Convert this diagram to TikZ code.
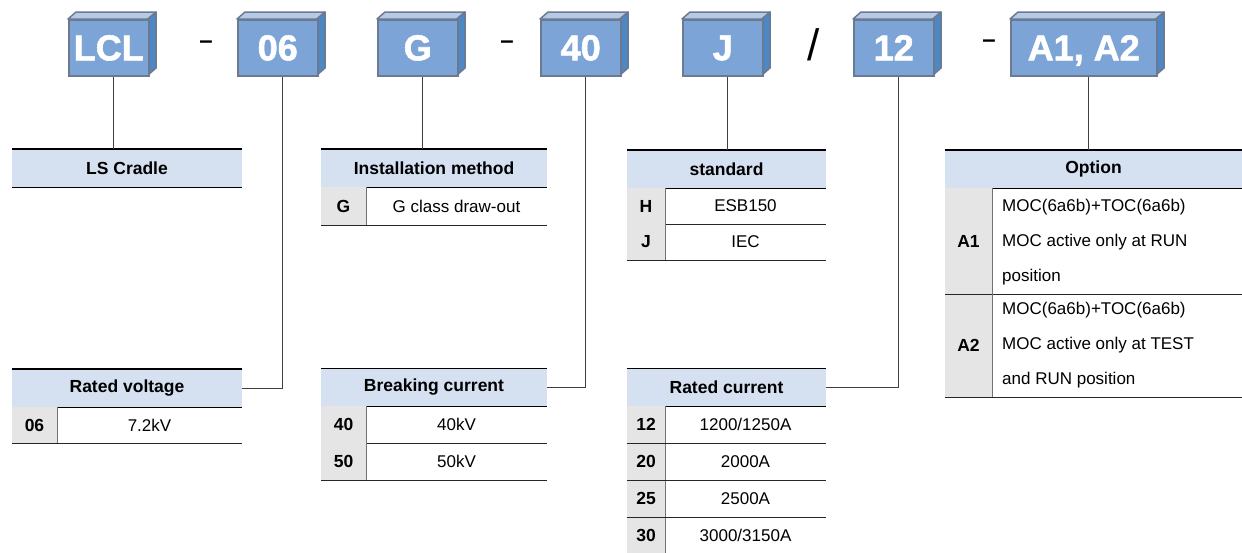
\documentclass[tikz,border=0pt]{standalone}
\usepackage{fontspec}
\setmainfont{Liberation Sans}
\newfontfamily\boxfont[BoldFeatures={FakeBold=1.6}]{Liberation Sans}
\definecolor{boxfront}{RGB}{124,164,214}
\definecolor{boxtopc}{RGB}{182,202,232}
\definecolor{boxsidec}{RGB}{78,136,196}
\definecolor{boxedge}{RGB}{108,122,143}
\definecolor{headblue}{RGB}{213,224,240}
\definecolor{keygrey}{RGB}{229,229,229}
\tikzset{
  codebox/.style={draw=boxedge, fill=boxfront, line width=1.5pt, minimum height=56pt,
    inner sep=0pt, text=white, font=\fontsize{36}{36}\boxfont\bfseries},
  boxtop/.style={draw=boxedge, fill=boxtopc, line width=1.5pt, line join=round},
  boxside/.style={draw=boxedge, fill=boxsidec, line width=1.5pt, line join=round},
  headcell/.style={fill=headblue, minimum height=38pt, inner sep=0pt,
    font=\fontsize{17.5}{20}\selectfont\bfseries},
  keycell/.style={fill=keygrey, inner sep=0pt, font=\fontsize{17.5}{20}\selectfont\bfseries},
  valcell/.style={inner sep=0pt, font=\fontsize{17}{20}\selectfont},
  rule/.style={black, line width=1.4pt},
  rowrule/.style={black!85, line width=1pt},
  keyrule/.style={black!55, line width=1pt},
  link/.style={black!75, line width=1pt},
  sepmark/.style={inner sep=0pt, font=\fontsize{24}{24}\selectfont\bfseries},
}
\begin{document}
\begin{tikzpicture}[x=1pt, y=-1pt]
  \useasboundingbox (0,0) rectangle (1242,552);
  % Code-Bloecke oben (3D)
  \foreach \nm/\x/\w/\lab in {lcl/68/80/LCL, c06/237/80/06, cg/377/80/G, c40/540/80/40,
      cj/682/80/J, c12/853/80/12, copt/1010/146/{A1, A2}}{
    \filldraw[boxtop] (\x,19) -- ++(8,-7) -- ++(\w,0) -- ++(-8,7) -- cycle;
    \filldraw[boxside] (\x+\w,19) -- ++(8,-7) -- ++(0,56) -- ++(-8,7) -- cycle;
    \node[codebox, minimum width=\w pt, anchor=north west, text depth=-3pt] (\nm) at (\x,19) {\lab};
    \coordinate (\nm foot) at ([xshift=5pt]\nm.south);
  }
  % Trennzeichen
  \node[sepmark] (dash1) at (206,45) {–};
  \node[sepmark] (dash2) at (507,45) {–};
  \node[sepmark, font=\fontsize{44}{44}\selectfont] (slash) at (814,45) {/};
  \node[sepmark] (dash3) at (989,44) {–};

  % LS Cradle
  \node[headcell, minimum width=230pt] (cradle) at (127,168) {LS Cradle};
  \draw[rule] (cradle.north west) -- (cradle.north east);
  \draw[rule] (cradle.south west) -- (cradle.south east);

  % Installation method
  \node[headcell, minimum width=226pt] (install) at (434,168) {Installation method};
  \draw[rule] (install.north west) -- (install.north east);
  \draw[rule] (install.south west) -- (install.south east);
  \node[keycell, minimum width=45pt, minimum height=38pt] (ik1) at (343.5,206) {G};
  \node[valcell] (iv1) at (456.5,206) {G class draw-out};
  \draw[keyrule] (ik1.north east) -- (ik1.south east);
  \draw[rowrule] (ik1.south west) -- (ik1.south west -| install.east);

  % standard
  \node[headcell, minimum width=199pt] (stdd) at (726.5,169) {standard};
  \draw[rule] (stdd.north west) -- (stdd.north east);
  \draw[rule] (stdd.south west) -- (stdd.south east);
  \foreach \k/\v [count=\i] in {H/ESB150, J/IEC}{
    \node[keycell, minimum width=38pt, minimum height=36pt] (sk\i) at (646,170+36*\i) {\k};
    \node[valcell] (sv\i) at (745.5,170+36*\i) {\v};
    \draw[keyrule] (sk\i.north east) -- (sk\i.south east);
    \draw[rowrule] (sk\i.south west) -- (sk\i.south west -| stdd.east);
  }

  % Option
  \node[headcell, minimum width=297pt] (option) at (1093.5,169) {Option};
  \draw[rule] (option.north west) -- (option.north east);
  \draw[rule] (option.south west) -- (option.south east);
  \node[keycell, minimum width=47pt, minimum height=106pt] (ok1) at (968.5,241) {A1};
  \node[keycell, minimum width=47pt, minimum height=103pt] (ok2) at (968.5,345.5) {A2};
  \node[valcell, anchor=west, align=left, font=\fontsize{17}{35}\selectfont] (ov1)
    at (1002,242) {MOC(6a6b)+TOC(6a6b)\\MOC active only at RUN\\position};
  \node[valcell, anchor=west, align=left, font=\fontsize{17}{35}\selectfont] (ov2)
    at (1002,345) {MOC(6a6b)+TOC(6a6b)\\MOC active only at TEST\\and RUN position};
  \foreach \i in {1,2}{
    \draw[keyrule] (ok\i.north east) -- (ok\i.south east);
    \draw[rowrule] (ok\i.south west) -- (ok\i.south west -| option.east);
  }

  % Rated voltage
  \node[headcell, minimum width=230pt] (volt) at (127,388) {Rated voltage};
  \draw[rule] (volt.north west) -- (volt.north east);
  \draw[rule] (volt.south west) -- (volt.south east);
  \node[keycell, minimum width=45pt, minimum height=36pt] (vk1) at (34.5,425) {06};
  \node[valcell] (vv1) at (149.5,425) {7.2kV};
  \draw[keyrule] (vk1.north east) -- (vk1.south east);
  \draw[rowrule] (vk1.south west) -- (vk1.south west -| volt.east);

  % Breaking current
  \node[headcell, minimum width=226pt] (brk) at (434,387.5) {Breaking current};
  \draw[rule] (brk.north west) -- (brk.north east);
  \draw[rule] (brk.south west) -- (brk.south east);
  \foreach \k/\v [count=\i] in {40/40kV, 50/50kV}{
    \node[keycell, minimum width=45pt, minimum height=37pt] (bk\i) at (343.5,387.5+37*\i) {\k};
    \node[valcell] (bv\i) at (456.5,387.5+37*\i) {\v};
    \draw[keyrule] (bk\i.north east) -- (bk\i.south east);
    \draw[rowrule] (bk\i.south west) -- (bk\i.south west -| brk.east);
  }

  % Rated current
  \node[headcell, minimum width=199pt] (rcur) at (726.5,387.5) {Rated current};
  \draw[rule] (rcur.north west) -- (rcur.north east);
  \draw[rule] (rcur.south west) -- (rcur.south east);
  \foreach \k/\v [count=\i] in {12/1200\slash 1250A, 20/2000A, 25/2500A, 30/3000\slash 3150A}{
    \node[keycell, minimum width=38pt, minimum height=37pt] (rk\i) at (646,387.5+37*\i) {\k};
    \node[valcell] (rv\i) at (745.5,387.5+37*\i) {\v};
    \draw[keyrule] (rk\i.north east) -- (rk\i.south east);
  }
  \foreach \i in {1,2,3}{
    \draw[rowrule] (rk\i.south west) -- (rk\i.south west -| rcur.east);
  }

  % Verbindungslinien
  \draw[link] (lclfoot) -- (lclfoot |- cradle.north);
  \draw[link] (c06foot) |- (volt.east);
  \draw[link] (cgfoot) -- (cgfoot |- install.north);
  \draw[link] (c40foot) |- (brk.east);
  \draw[link] (cjfoot) -- (cjfoot |- stdd.north);
  \draw[link] (c12foot) |- (rcur.east);
  \draw[link] (coptfoot) -- (coptfoot |- option.north);
\end{tikzpicture}
\end{document}
